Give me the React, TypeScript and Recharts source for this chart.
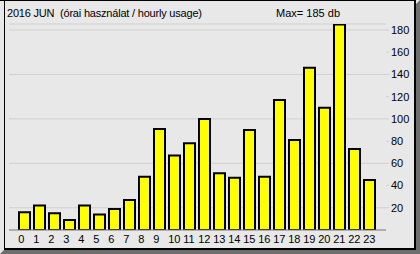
import React from 'react';
import { BarChart, Bar, XAxis, YAxis, CartesianGrid } from 'recharts';

const hours = ['0','1','2','3','4','5','6','7','8','9','10','11','12','13','14','15','16','17','18','19','20','21','22','23'];
const usage = [16, 22, 15, 9, 22, 14, 19, 27, 48, 91, 67, 78, 100, 51, 47, 90, 48, 117, 81, 146, 110, 185, 73, 45];
const yTicks = [20, 40, 60, 80, 100, 120, 140, 160, 180];
const titleText = '2016 JUN  (órai használat / hourly usage)';
const maxText = 'Max= 185 db';

const data = hours.map((h, i) => ({ hour: h, value: usage[i] }));

const FONT = '"Liberation Sans", Arial, sans-serif';

const XTick = (props: any) => {
  const { x, y, payload } = props;
  return (
    <text x={x - 6.3} y={y + 9} textAnchor="start" fontSize={11} fill="#000" fontFamily={FONT}>
      {payload.value}
    </text>
  );
};

export default function App() {
  return (
    <div style={{ position: 'absolute', left: 0, top: 0, width: 420, height: 254 }}>
      <svg width={420} height={254} style={{ position: 'absolute', left: 0, top: 0 }}>
        <rect x={0} y={0} width={420} height={254} fill="#e8e8e8" />
        <polygon points="415,5 420,0 420,254 0,254 4,250 415,250" fill="#6e6e6e" />
        <line x1={0} y1={0.5} x2={416} y2={0.5} stroke="#000" strokeWidth={1} />
        <line x1={4.5} y1={0} x2={4.5} y2={250} stroke="#000" strokeWidth={1} />
        <line x1={415} y1={0} x2={415} y2={250} stroke="#000" strokeWidth={2} />
        <line x1={4} y1={249} x2={416} y2={249} stroke="#000" strokeWidth={2} />
        <text x={7} y={17} fontSize={11} fontFamily={FONT} fill="#000" letterSpacing={-0.2} style={{ whiteSpace: 'pre' }}>{titleText}</text>
        <text x={340} y={17} fontSize={11} fontFamily={FONT} fill="#000" textAnchor="end" style={{ whiteSpace: 'pre' }}>{maxText}</text>
      </svg>
      <div style={{ position: 'absolute', left: 0, top: 0 }}>
        <BarChart
          width={420}
          height={254}
          data={data}
          margin={{ top: 24, right: 0, bottom: 0, left: 9 }}
          barCategoryGap={0}
        >
          <CartesianGrid horizontal vertical={false} stroke="#d0d0d0" strokeWidth={1} />
          <XAxis
            dataKey="hour"
            height={24}
            padding={{ left: 8, right: 9 }}
            axisLine={{ stroke: '#808080', strokeWidth: 1 }}
            tickLine={false}
            tickSize={4}
            tickMargin={0}
            interval={0}
            tick={<XTick />}
          />
          <YAxis
            orientation="right"
            width={34}
            domain={[0, 185.4]}
            ticks={yTicks}
            allowDataOverflow
            axisLine={false}
            tickLine={{ stroke: '#d0d0d0' }}
            tickSize={3}
            tickMargin={2}
            tick={{ fontSize: 11, fill: '#000', fontFamily: FONT }}
          />
          <Bar dataKey="value" fill="#ffff00" stroke="#000" strokeWidth={2} barSize={11} isAnimationActive={false} />
        </BarChart>
      </div>
    </div>
  );
}
